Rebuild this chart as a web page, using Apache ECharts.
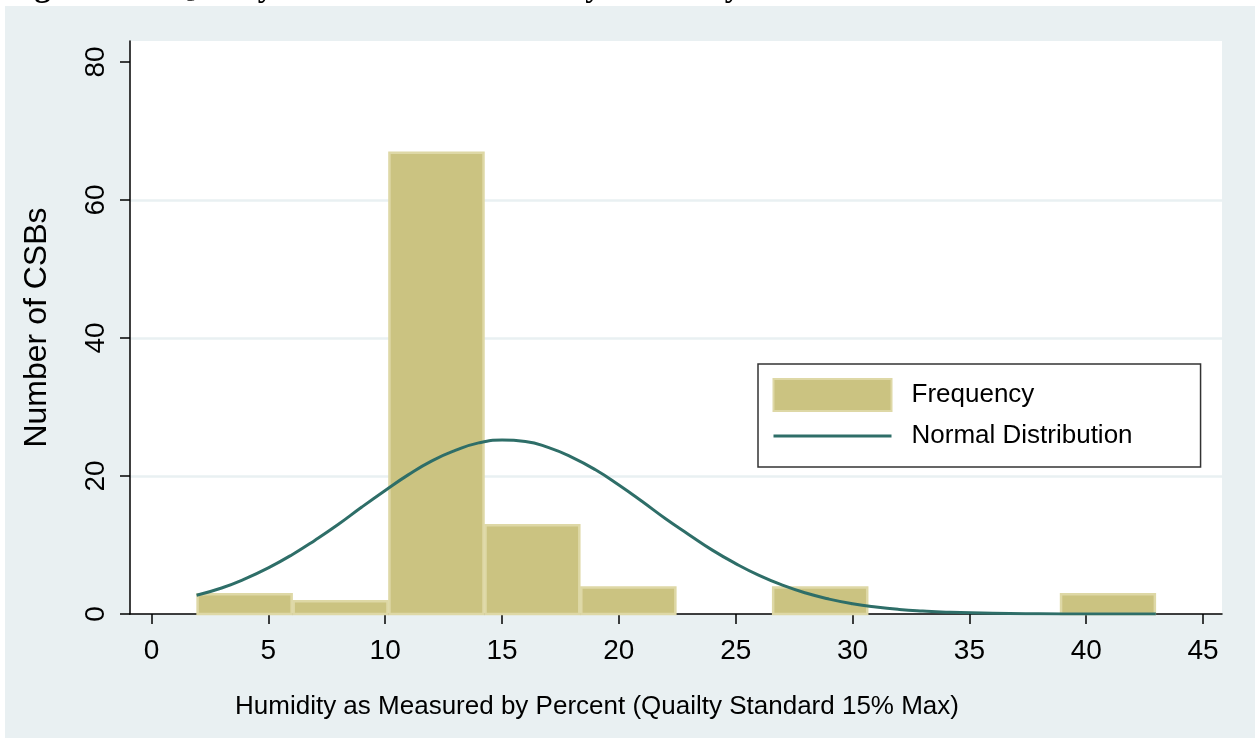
<!DOCTYPE html>
<html>
<head>
<meta charset="utf-8">
<script src="https://cdn.jsdelivr.net/npm/echarts@6/dist/echarts.min.js"></script>
<style>
  html, body { margin: 0; padding: 0; background: #ffffff; }
  #chart { width: 1255px; height: 738px; }
</style>
</head>
<body>
<div id="chart"></div>
<script>
// Histogram bins: edges (percent humidity) and number of CSB samples per bin
const binEdges = [1.93, 6.04, 10.14, 14.25, 18.35, 22.46, 26.56, 30.67, 34.77, 38.88, 42.98];
const binCounts = [3, 2, 67, 13, 4, 0, 4, 0, 0, 3];

// Fitted normal curve, scaled to counts
const curveX = [1.93, 3, 4, 5, 6, 7, 8, 9, 10, 11, 12, 13, 14, 15, 16, 17, 18, 19, 20, 21, 22, 23, 24, 25, 26, 27, 28, 29, 30, 31, 32, 33, 34, 36, 38, 40, 42.98];
const curveY = [2.72, 3.77, 5.08, 6.68, 8.56, 10.7, 13.0, 15.5, 17.9, 20.2, 22.2, 23.7, 24.8, 25.2, 25.0, 24.1, 22.7, 20.9, 18.7, 16.3, 13.8, 11.5, 9.26, 7.3, 5.59, 4.18, 3.04, 2.16, 1.49, 1.01, 0.66, 0.43, 0.27, 0.095, 0.03, 0.01, 0.0];

// Axis ticks
const xTicks = [0, 5, 10, 15, 20, 25, 30, 35, 40, 45];
const yTicks = [0, 20, 40, 60, 80];

const titleText = 'Figure 4.1:  Quality of CSB as Measured by Humidity';
const xTitle = 'Humidity as Measured by Percent (Quailty Standard 15% Max)';
const yTitle = 'Number of CSBs';
const seriesNames = ['Frequency', 'Normal Distribution'];

const BAR_FILL = '#CBC381';
const BAR_EDGE = '#DED8A6';
const CURVE = '#2E6E68';
const PANEL = '#E9F0F2';
const FONT = '"Liberation Sans", Arial, sans-serif';

const histData = binCounts.map((c, i) => [binEdges[i], binEdges[i + 1], c]);
const curveData = curveX.map((x, i) => [x, curveY[i]]);

const chart = echarts.init(document.getElementById('chart'), null, { renderer: 'canvas' });

chart.setOption({
  backgroundColor: '#ffffff',
  animation: false,
  graphic: [
    {
      type: 'rect', z: -10, silent: true,
      shape: { x: 5, y: 6, width: 1250, height: 732 },
      style: { fill: PANEL }
    },
    {
      type: 'text', z: 10, silent: true,
      x: 6, y: -12,
      style: {
        text: titleText,
        font: 'bold 32px "Liberation Serif", "Times New Roman", serif',
        fill: '#000',
        verticalAlign: 'middle'
      }
    }
  ],
  grid: {
    left: 130, right: 33, top: 41, bottom: 124,
    show: true, backgroundColor: '#ffffff', borderWidth: 0
  },
  legend: {
    data: [
      { name: seriesNames[0], icon: 'rect', itemStyle: { color: BAR_FILL, borderColor: BAR_EDGE, borderWidth: 2 } },
      { name: seriesNames[1], itemStyle: { color: 'rgba(0,0,0,0)', borderColor: 'rgba(0,0,0,0)', borderWidth: 0 }, lineStyle: { color: CURVE, width: 3 } }
    ],
    orient: 'vertical',
    left: 758, top: 364,
    itemWidth: 118, itemHeight: 32, itemGap: 11,
    padding: [14, 68, 18, 14],
    backgroundColor: '#ffffff',
    borderColor: '#333333', borderWidth: 1.5,
    textStyle: { fontFamily: FONT, fontSize: 26, color: '#000', padding: [5, 0, 0, 15] }
  },
  xAxis: {
    type: 'value',
    min: -0.92, max: 45.81,
    name: xTitle,
    nameLocation: 'middle',
    nameGap: 80,
    nameTextStyle: { fontFamily: FONT, fontSize: 26, color: '#000', padding: [0, 158, 0, 0] },
    axisLine: { show: true, onZero: false, lineStyle: { color: '#000', width: 1.5 } },
    axisTick: { show: true, length: 10, customValues: xTicks, lineStyle: { color: '#000', width: 1.5 } },
    axisLabel: { customValues: xTicks, margin: 23, fontFamily: FONT, fontSize: 28, color: '#000' },
    splitLine: { show: false }
  },
  yAxis: {
    type: 'value',
    min: 0, max: 83.04,
    name: yTitle,
    nameLocation: 'middle',
    nameGap: 77,
    nameTextStyle: { fontFamily: FONT, fontSize: 32, color: '#000' },
    axisLine: { show: true, onZero: false, lineStyle: { color: '#000', width: 1.5 } },
    axisTick: { show: true, length: 10, customValues: yTicks, lineStyle: { color: '#000', width: 1.5 } },
    axisLabel: { customValues: yTicks, rotate: 90, margin: 20, fontFamily: FONT, fontSize: 28, color: '#000' },
    splitLine: { show: true, showMinLine: false, showMaxLine: false, lineStyle: { color: PANEL, width: 2.5 } }
  },
  series: [
    {
      name: seriesNames[0],
      type: 'custom',
      z: 2,
      data: histData,
      encode: { x: [0, 1], y: 2 },
      itemStyle: { color: BAR_FILL, borderColor: BAR_EDGE, borderWidth: 2.5 },
      renderItem: function (params, api) {
        const count = api.value(2);
        if (!count) return null;
        const topLeft = api.coord([api.value(0), count]);
        const bottomRight = api.coord([api.value(1), 0]);
        return {
          type: 'rect',
          shape: {
            x: topLeft[0] + 1, y: topLeft[1] + 1,
            width: bottomRight[0] - topLeft[0] - 2,
            height: bottomRight[1] - topLeft[1] - 1
          },
          style: { fill: BAR_FILL, stroke: BAR_EDGE, lineWidth: 2.5 }
        };
      }
    },
    {
      name: seriesNames[1],
      type: 'line',
      z: 3,
      data: curveData,
      smooth: true,
      symbol: 'none',
      lineStyle: { color: CURVE, width: 3 },
      itemStyle: { color: CURVE }
    }
  ]
});
</script>
</body>
</html>
